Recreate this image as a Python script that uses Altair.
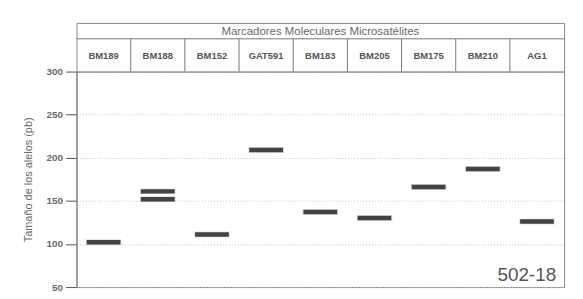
import altair as alt
import pandas as pd

# ---- data ----
markers = ["BM189", "BM188", "BM152", "GAT591", "BM183", "BM205", "BM175", "BM210", "AG1"]
allele_marker = ["BM189", "BM188", "BM188", "BM152", "GAT591", "BM183", "BM205", "BM175", "BM210", "AG1"]
allele_size = [102, 161, 152, 111, 209, 137, 130, 166, 187, 126]
y_ticks = [50, 100, 150, 200, 250, 300]
header_title = ["Marcadores Moleculares Microsatélites"]
y_title = "Tamaño de los alelos (pb)"
sample_label = ["502-18"]

W = 491
HH = 49
MH = 217
FONT = "Liberation Sans"
GREY = "#6a6a6a"

alleles = pd.DataFrame({"marker": allele_marker, "size": allele_size})
cols = pd.DataFrame({"marker": markers})
divs = pd.DataFrame({"marker": markers[1:]})
one = pd.DataFrame({"t": header_title})
lab = pd.DataFrame({"t": sample_label})

xscale = alt.Scale(domain=markers, paddingInner=0, paddingOuter=0)
X = alt.X("marker:N", scale=xscale, axis=None)

yenc = alt.Y(
    "size:Q",
    scale=alt.Scale(domain=[50, 300], nice=False, zero=False),
    axis=alt.Axis(
        values=y_ticks,
        title=y_title,
        grid=True,
        gridColor="#c4c4c4",
        gridDash=[1, 2],
        domainColor="#777",
        tickColor="#555",
        tickSize=11,
        labelColor=GREY,
        labelFont=FONT,
        labelFontSize=10,
        labelFontWeight="bold",
        labelPadding=3,
        titleColor=GREY,
        titleFont=FONT,
        titleFontSize=11,
        titleFontWeight="normal",
        titlePadding=13,
    ),
)

shadow = alt.Chart(alleles).mark_tick(
    size=36, thickness=6, color="#000", opacity=0.12
).encode(x=X, y=yenc)
bars = alt.Chart(alleles).mark_tick(size=34, thickness=4.5, color="#000").encode(x=X, y=yenc)
label = alt.Chart(lab).mark_text(
    align="right", baseline="alphabetic", fontSize=19, color="#555", font=FONT
).encode(x=alt.value(W - 8), y=alt.value(MH - 6), text="t:N")

main = alt.layer(shadow, bars, label).properties(width=W, height=MH)

names = alt.Chart(cols).mark_text(
    fontSize=9.5, fontWeight="bold", color="#555", font=FONT
).encode(x=X, y=alt.value(33), text="marker:N")
dividers = alt.Chart(divs).mark_rule(color="#777", strokeWidth=1).encode(
    x=alt.X("marker:N", scale=xscale, axis=None, bandPosition=0),
    y=alt.value(16),
    y2=alt.value(HH),
)
rowline = alt.Chart(one).mark_rule(color="#777", strokeWidth=1).encode(
    x=alt.value(0), x2=alt.value(W), y=alt.value(16)
)
title = alt.Chart(one).mark_text(fontSize=11.5, color=GREY, font=FONT).encode(
    x=alt.value(W / 2), y=alt.value(9), text="t:N"
)
header = alt.layer(rowline, dividers, names, title).properties(width=W, height=HH)

chart = (
    alt.vconcat(header, main, spacing=0, bounds="flush")
    .properties(padding={"left": 13, "top": 13, "right": 10, "bottom": 5}, background="white")
    .configure_view(stroke="#888", strokeWidth=1)
)

chart.save("out.html", embed_options={"renderer": "svg", "actions": False})
